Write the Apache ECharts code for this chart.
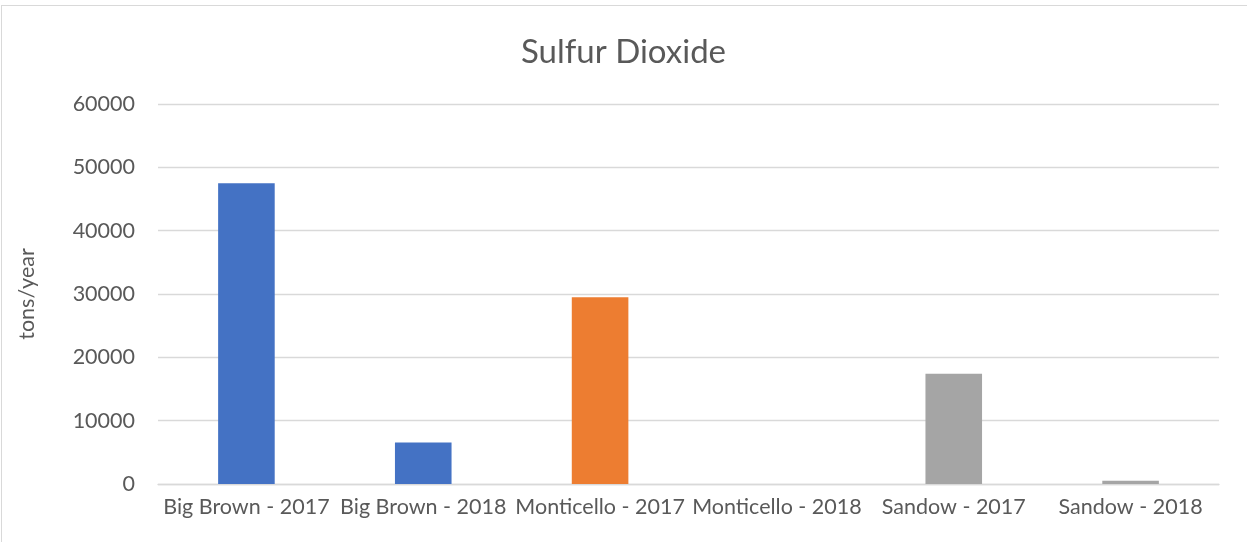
<!DOCTYPE html>
<html>
<head>
<meta charset="utf-8">
<script src="https://cdn.jsdelivr.net/npm/echarts@6/dist/echarts.min.js"></script>
<style>
  html, body { margin: 0; padding: 0; background: #fff; }
  #frame {
    position: absolute; left: 1px; top: 5px; width: 1260px; height: 560px;
    border: 1px solid #d9d9d9; box-sizing: border-box;
  }
  #chart { position: absolute; left: 0; top: 0; width: 1247px; height: 542px; }
</style>
</head>
<body>
<div id="frame"></div>
<div id="chart"></div>
<script>
// --- data ---
const categories = [
  'Big Brown - 2017', 'Big Brown - 2018',
  'Monticello - 2017', 'Monticello - 2018',
  'Sandow - 2017', 'Sandow - 2018'
]
const so2Values = [47500, 6550, 29500, 0, 17400, 520]
const barColors = ['#4472C4', '#4472C4', '#ED7D31', '#ED7D31', '#A5A5A5', '#A5A5A5']
const yTicks = [0, 10000, 20000, 30000, 40000, 50000, 60000]

const textColor = '#595959'
const fontFamily = 'Lato, "Open Sans", sans-serif'

const chart = echarts.init(document.getElementById('chart'))

chart.setOption({
  animation: false,
  title: {
    text: 'Sulfur Dioxide',
    left: 'center',
    top: 31,
    textStyle: { color: textColor, fontSize: 33, fontWeight: 'normal', fontFamily },
  },
  grid: { left: 158, right: 28, top: 104, bottom: 58, containLabel: false },
  xAxis: {
    type: 'category',
    data: categories,
    axisLine: { lineStyle: { color: '#d9d9d9', width: 1.3 } },
    axisTick: { show: false },
    axisLabel: { color: textColor, fontSize: 21.5, fontFamily, margin: 12, interval: 0 },
  },
  yAxis: {
    type: 'value',
    min: yTicks[0],
    max: yTicks[yTicks.length - 1],
    interval: 10000,
    name: 'tons/year',
    nameLocation: 'middle',
    nameGap: 120,
    nameTextStyle: { color: textColor, fontSize: 21.5, fontFamily },
    axisLine: { show: false },
    axisTick: { show: false },
    axisLabel: { color: textColor, fontSize: 21.5, fontFamily, margin: 23, formatter: (v) => String(v) },
    splitLine: { lineStyle: { color: '#d9d9d9', width: 1.3 } },
  },
  series: [
    {
      name: 'Sulfur Dioxide',
      type: 'bar',
      barWidth: '32%',
      data: so2Values.map((v, i) => ({ value: v, itemStyle: { color: barColors[i] } })),
    },
  ],
})
</script>
</body>
</html>
